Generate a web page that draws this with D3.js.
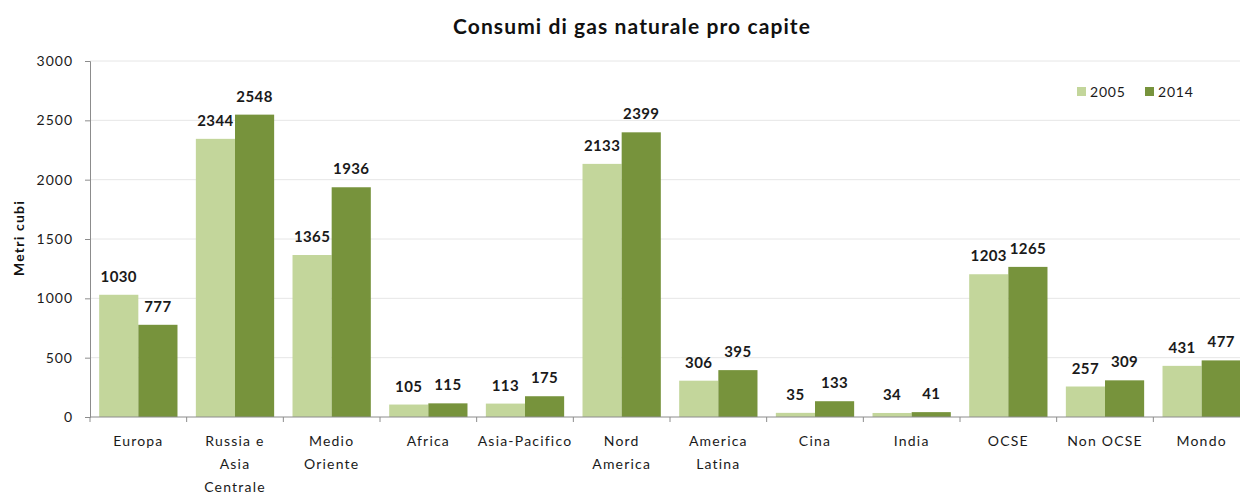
<!DOCTYPE html>
<html>
<head>
<meta charset="utf-8">
<script src="https://cdn.jsdelivr.net/npm/d3@7"></script>
<style>
  html, body { margin: 0; padding: 0; background: #ffffff; }
  svg { display: block; font-family: Lato, "Open Sans", sans-serif; }
</style>
</head>
<body>
<svg id="chart" width="1240" height="494"></svg>
<script>
// Per-capita natural gas consumption (cubic metres)
const categories = [
  ["Europa"],
  ["Russia e", "Asia", "Centrale"],
  ["Medio", "Oriente"],
  ["Africa"],
  ["Asia-Pacifico"],
  ["Nord", "America"],
  ["America", "Latina"],
  ["Cina"],
  ["India"],
  ["OCSE"],
  ["Non OCSE"],
  ["Mondo"]
];
const values2005 = [1030, 2344, 1365, 105, 113, 2133, 306, 35, 34, 1203, 257, 431];
const values2014 = [777, 2548, 1936, 115, 175, 2399, 395, 133, 41, 1265, 309, 477];
const seriesNames = ["2005", "2014"];
const yTicks = [0, 500, 1000, 1500, 2000, 2500, 3000];
const titleText = "Consumi di gas naturale pro capite";
const yTitle = "Metri cubi";

const colors = ["#c3d69b", "#77933c"];
const series = [values2005, values2014];

const svg = d3.select("#chart");
const margin = { left: 90, top: 61, right: 1250, bottom: 417 };

const keys = categories.map((c, i) => i);
const x = d3.scaleBand().domain(keys).range([margin.left, margin.right]).paddingInner(0.19).paddingOuter(0.095);
const xs = d3.scaleBand().domain([0, 1]).range([0, x.bandwidth()]);
const y = d3.scaleLinear().domain([0, 3000]).range([margin.bottom, margin.top]);

// gridlines
svg.append("g")
  .selectAll("line")
  .data(yTicks.filter(d => d > 0))
  .join("line")
  .attr("x1", margin.left).attr("x2", margin.right)
  .attr("y1", d => y(d)).attr("y2", d => y(d))
  .attr("stroke", "#e6e6e6").attr("stroke-width", 1);

// bars with value labels
const groups = svg.append("g").selectAll("g")
  .data(keys)
  .join("g")
  .attr("transform", i => `translate(${x(i)},0)`);

series.forEach((vals, s) => {
  groups.append("rect")
    .attr("x", xs(s))
    .attr("width", xs.bandwidth())
    .attr("y", i => y(vals[i]))
    .attr("height", i => y(0) - y(vals[i]))
    .attr("fill", colors[s]);
  groups.append("text")
    .attr("x", xs(s) + xs.bandwidth() / 2)
    .attr("y", i => y(vals[i]) - 13)
    .attr("text-anchor", "middle")
    .attr("font-weight", "bold")
    .attr("font-size", 15)
    .attr("letter-spacing", 0.4)
    .attr("fill", "#1a1a1a")
    .text(i => vals[i]);
});

// y axis
const yAxis = svg.append("g")
  .attr("transform", `translate(${margin.left},0)`)
  .call(d3.axisLeft(y).tickValues(yTicks).tickFormat(d3.format("d")).tickSize(5).tickPadding(12));
yAxis.select(".domain").attr("stroke", "#8c8c8c");
yAxis.selectAll(".tick line").attr("stroke", "#8c8c8c");
yAxis.selectAll(".tick text")
  .attr("font-size", 14)
  .attr("letter-spacing", 1)
  .attr("fill", "#1a1a1a")
  .attr("font-family", "Lato, sans-serif");

// x axis baseline and category boundary ticks
svg.append("line")
  .attr("x1", margin.left).attr("x2", margin.right)
  .attr("y1", y(0)).attr("y2", y(0))
  .attr("stroke", "#8c8c8c");
const step = x.step();
const firstEdge = x(0) - (step - x.bandwidth()) / 2;
svg.append("g").selectAll("line")
  .data(d3.range(categories.length + 1))
  .join("line")
  .attr("x1", k => firstEdge + k * step)
  .attr("x2", k => firstEdge + k * step)
  .attr("y1", y(0)).attr("y2", y(0) + 5)
  .attr("stroke", "#8c8c8c");

// category labels
const catLabels = svg.append("g").selectAll("text")
  .data(keys)
  .join("text")
  .attr("y", 446)
  .attr("text-anchor", "middle")
  .attr("font-size", 14)
  .attr("letter-spacing", 1.2)
  .attr("fill", "#1a1a1a");
catLabels.selectAll("tspan")
  .data(i => categories[i].map((t, j) => ({ t, j, cx: x(i) + x.bandwidth() / 2 })))
  .join("tspan")
  .attr("x", d => d.cx)
  .attr("dy", d => d.j === 0 ? 0 : 23)
  .text(d => d.t);

// title
svg.append("text")
  .attr("x", 632).attr("y", 34)
  .attr("text-anchor", "middle")
  .attr("font-weight", "bold")
  .attr("font-size", 21)
  .attr("letter-spacing", 1.1)
  .attr("fill", "#111")
  .text(titleText);

// y title
svg.append("text")
  .attr("transform", `translate(24,238) rotate(-90)`)
  .attr("text-anchor", "middle")
  .attr("font-weight", "bold")
  .attr("font-size", 14)
  .attr("letter-spacing", 1.2)
  .attr("fill", "#111")
  .text(yTitle);

// legend
const legendX = [1077, 1145];
const legend = svg.append("g").selectAll("g")
  .data(seriesNames)
  .join("g")
  .attr("transform", (d, i) => `translate(${legendX[i]},87)`);
legend.append("rect").attr("width", 9).attr("height", 9).attr("fill", (d, i) => colors[i]);
legend.append("text").attr("x", 13).attr("y", 10).attr("font-size", 14)
  .attr("letter-spacing", 0.8).attr("fill", "#1a1a1a").text(d => d);
</script>
</body>
</html>
